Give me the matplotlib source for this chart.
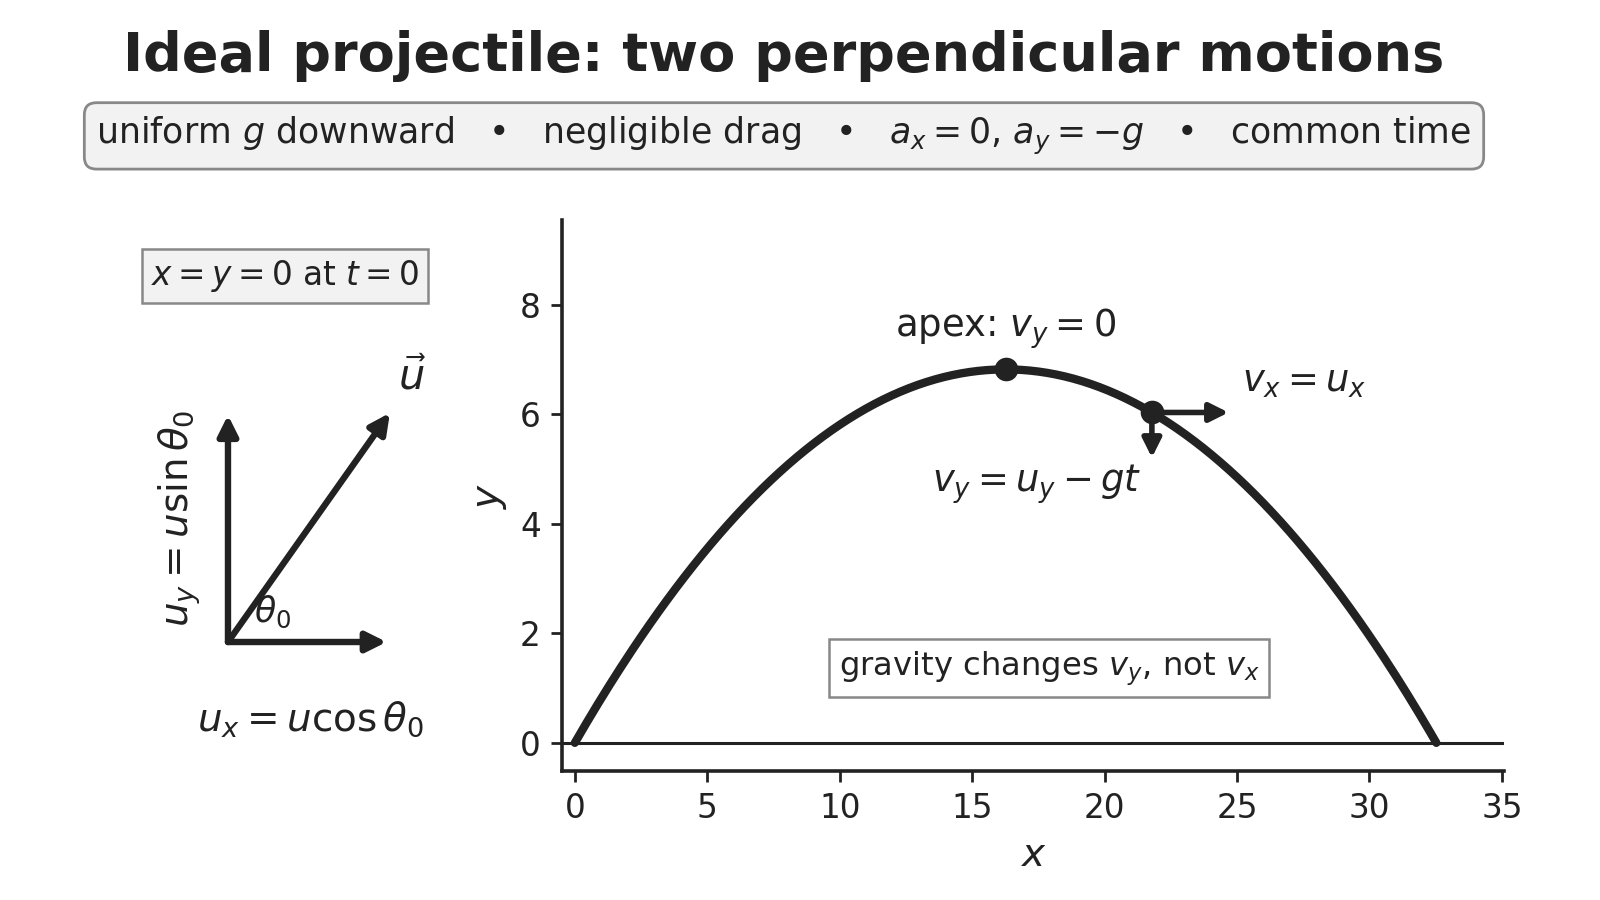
import numpy as np
import matplotlib
matplotlib.use("Agg")
from matplotlib import pyplot as plt

# launch parameters (range ~32.5, apex ~6.8)
u = 18.0          # launch speed
theta_deg = 40.0  # launch angle
g = 9.81
t_mark = 1.58     # time of the marked point after launch
arrow_scale = 0.21

x_ticks = [0, 5, 10, 15, 20, 25, 30, 35]
y_ticks = [0, 2, 4, 6, 8]

ink = "#222222"
box_face = "#f2f2f2"
box_edge = "#888888"

th = np.radians(theta_deg)
ux = u * np.cos(th)
uy = u * np.sin(th)
t_flight = 2 * uy / g
t = np.linspace(0, t_flight, 300)
x = ux * t
y = uy * t - 0.5 * g * t ** 2
t_apex = uy / g
x_apex = ux * t_apex
y_apex = uy * t_apex - 0.5 * g * t_apex ** 2
x_m = ux * t_mark
y_m = uy * t_mark - 0.5 * g * t_mark ** 2
vx_m = ux
vy_m = uy - g * t_mark

plt.rcParams["font.family"] = ["DejaVu Sans"]
plt.rcParams["mathtext.fontset"] = "dejavusans"

fig = plt.figure(figsize=(8, 4.5), dpi=200)

fig.text(0.49, 0.938, "Ideal projectile: two perpendicular motions",
         ha="center", va="center", fontsize=19.5, fontweight="bold", color=ink)
fig.text(0.49, 0.849,
         r"uniform $g$ downward   •   negligible drag   •   $a_x = 0$, $a_y = -g$   •   common time",
         ha="center", va="center", fontsize=12.5, color=ink,
         bbox=dict(boxstyle="round,pad=0.35", fc=box_face, ec=box_edge, lw=1.0))

# ---- left: component diagram ----
axl = fig.add_axes([0.0625, 0.1333, 0.2375, 0.6111])
axl.set_xlim(-0.618, 1.217)
axl.set_ylim(-0.391, 1.167)
axl.axis("off")
ap = dict(arrowstyle="-|>", color=ink, lw=2.3, mutation_scale=15, shrinkA=0, shrinkB=0)
cx, cy = np.cos(th), np.sin(th)
axl.annotate("", xy=(cx, 0), xytext=(0, 0), arrowprops=ap)
axl.annotate("", xy=(0, cy), xytext=(0, 0), arrowprops=ap)
# diagonal drawn in screen proportions matching the picture
axl.annotate("", xy=(0.782, 0.649), xytext=(0, 0), arrowprops=ap)
axl.text(0.89, 0.75, r"$\vec{u}$", fontsize=15, ha="center", va="center", color=ink)
axl.text(-0.232, 0.35, r"$u_y = u \sin\theta_0$", fontsize=14, rotation=90,
         ha="center", va="center", color=ink)
axl.text(0.215, 0.085, r"$\theta_0$", fontsize=12.5, ha="center", va="center", color=ink)
axl.text(0.40, -0.22, r"$u_x = u \cos\theta_0$", fontsize=14, ha="center", va="center", color=ink)
axl.text(0.275, 1.037, r"$x = y = 0$ at $t = 0$", fontsize=11.8, ha="center", va="center",
         color=ink, bbox=dict(boxstyle="square,pad=0.28", fc=box_face, ec=box_edge, lw=0.9))

# ---- right: trajectory ----
ax = fig.add_axes([0.351, 0.143, 0.589, 0.613])
ax.plot(x, y, color=ink, lw=3.0, solid_capstyle="round")
ax.axhline(0, color=ink, lw=1.1)
ax.plot([x_apex], [y_apex], "o", color=ink, ms=7.5)
ax.plot([x_m], [y_m], "o", color=ink, ms=7.5)
ap2 = dict(arrowstyle="-|>", color=ink, lw=2.0, mutation_scale=14, shrinkA=0, shrinkB=0)
ax.annotate("", xy=(x_m + vx_m * arrow_scale, y_m), xytext=(x_m, y_m), arrowprops=ap2)
ax.annotate("", xy=(x_m, y_m + vy_m * arrow_scale), xytext=(x_m, y_m), arrowprops=ap2)

ax.text(x_apex, y_apex + 0.75, r"apex: $v_y = 0$", fontsize=13.3, ha="center", va="center", color=ink)
ax.text(25.2, 6.6, r"$v_x = u_x$", fontsize=13.3, ha="left", va="center", color=ink)
ax.text(17.45, 4.73, r"$v_y = u_y - gt$", fontsize=13.3, ha="center", va="center", color=ink)
ax.text(17.9, 1.36, r"gravity changes $v_y$, not $v_x$", fontsize=11.6, ha="center", va="center",
        color=ink, bbox=dict(boxstyle="square,pad=0.3", fc="white", ec=box_edge, lw=0.9))

ax.set_xlim(-0.5, 35.08)
ax.set_ylim(-0.52, 9.56)
ax.set_xticks(x_ticks)
ax.set_yticks(y_ticks)
ax.tick_params(labelsize=11.8, colors=ink, width=1.0, length=4)
ax.set_xlabel(r"$x$", fontsize=14, color=ink)
ax.set_ylabel(r"$y$", fontsize=14, color=ink)
for s in ["top", "right"]:
    ax.spines[s].set_visible(False)
for s in ["left", "bottom"]:
    ax.spines[s].set_linewidth(1.3)
    ax.spines[s].set_color(ink)

fig.savefig("out.png", dpi=200)
